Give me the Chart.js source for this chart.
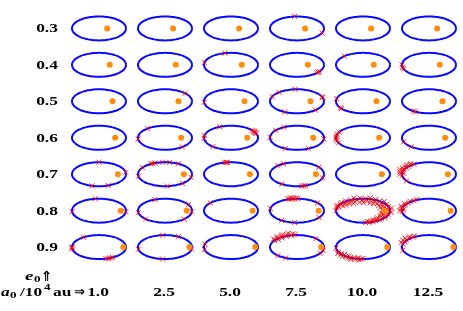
<!DOCTYPE html>
<html>
<head>
<meta charset="utf-8">
<script src="https://cdn.jsdelivr.net/npm/chart.js@4"></script>
<style>
  html, body { margin: 0; padding: 0; background: #fff; }
  #wrap { width: 463px; height: 311px; position: relative; }
</style>
</head>
<body>
<div id="wrap"><canvas id="orbits"></canvas></div>
<script>
// rows: initial eccentricity, columns: initial semi-major axis (10^4 au)
const eccentricities = [0.3, 0.4, 0.5, 0.6, 0.7, 0.8, 0.9];
const eccLabels = ["0.3", "0.4", "0.5", "0.6", "0.7", "0.8", "0.9"];
const semiMajorLabels = ["1.0", "2.5", "5.0", "7.5", "10.0", "12.5"];

// single markers, angle on the orbit in degrees (0 = right end, 90 = top)
const crossAngles = [
  [[], [], [], [95, 338], [], []],
  [[], [], [103, 170], [318, 322, 326], [134], [180, 192, 200]],
  [[], [42], [185], [157, 132, 94, 243, 22, 18, 313], [167, 217, 213], [235, 240]],
  [[], [130, 185, 310], [115, 170, 183, 228, 38, 34, 30, 27, 24, 21], [142, 119, 178, 244, 295, 355], [152, 162, 170, 178, 186, 195, 205], [200, 229]],
  [[90, 10, 255, 290], [147, 190, 117, 121, 112, 95, 80, 60, 345, 310, 275], [98, 100, 103], [135, 120, 236, 280, 284, 288, 36, 342], [], [214]],
  [[98, 185, 355], [112, 190, 224, 355, 315, 30], [140], [170, 235, 265, 325, 40], [180], []],
  [[125, 180, 183, 190, 285, 290, 295, 300], [190, 95, 60, 265, 350], [165, 192], [225, 245, 45, 345, 330], [185], [195]]
];

// dense smears: [angle, radius factor]
const smear07_125 = [[186,1.0],[180,1.08],[175,0.95],[170,1.1],[165,1.0],[160,1.15],[156,1.02],[152,1.12],[148,0.98],[144,1.1],[140,1.0],[136,1.15],[132,1.04],[128,1.1],[124,1.0]];
const smear08_75 = [[88,1.0],[91,1.08],[94,0.98],[97,1.06],[100,1.0],[103,1.1],[106,1.0],[109,1.05]];
const smear08_100 = [[165,1.0],[160,0.95],[156,1.05],[152,0.85],[148,1.0],[144,0.8],[140,1.05],[136,0.9],[132,0.75],[128,1.05],[124,0.85],[120,0.7],[116,1.0],[112,0.8],[108,1.1],[104,0.9],[100,0.7],[96,1.05],[92,0.85],[88,0.68],[84,1.0],[80,0.8],[76,1.1],[72,0.9],[68,0.7],[64,1.05],[60,0.85],[56,0.7],[52,1.0],[48,0.8],[44,1.1],[40,0.9],[36,0.72],[32,1.05],[28,0.85],[24,0.7],[20,1.0],[16,0.8],[12,1.08],[8,0.9],[4,0.72],[0,1.0],[-4,0.82],[-8,1.05],[-12,0.88],[-16,0.7],[-20,1.0],[-24,0.82],[-28,0.95],[-32,0.75],[-36,1.0],[-40,0.85],[-44,0.95],[-48,0.8],[-52,1.0],[-56,0.88],[-60,0.95],[-64,0.85],[-68,1.0],[-72,0.9],[-76,1.0],[-80,0.92],[-85,1.0]];
const smear08_125 = [[185,1.0],[180,1.08],[175,0.95],[170,1.05],[165,1.0],[160,1.1],[152,1.0],[146,1.08],[140,1.0],[132,1.05],[124,1.0],[116,1.05]];
const smear09_75 = [[146,1.0],[142,1.1],[138,0.92],[134,1.05],[130,1.15],[126,0.95],[122,1.08],[118,1.18],[114,0.98],[110,1.1],[106,1.2],[102,1.0],[98,1.12],[94,1.05]];
const smear09_100 = [[205,1.0],[210,1.08],[214,0.95],[218,1.05],[222,0.92],[226,1.1],[230,1.0],[234,0.9],[238,1.08],[242,0.98],[246,1.1],[250,0.95],[254,1.05],[258,0.92],[262,1.08],[266,1.0],[270,0.95]];
const smear09_125 = [[165,1.0],[160,1.1],[155,0.98],[150,1.12],[145,1.02],[140,1.15],[135,1.05],[130,1.12],[125,1.02],[120,1.08]];

const smears = [
  [4, 5, smear07_125],
  [5, 3, smear08_75],
  [5, 4, smear08_100],
  [5, 5, smear08_125],
  [6, 3, smear09_75],
  [6, 4, smear09_100],
  [6, 5, smear09_125]
];

// layout: one unit per panel
const RX = 27 / 66;
const RY = 12 / 36.45;
const deg = Math.PI / 180;

function onOrbit(row, col, angle, s) {
  return {
    x: col + s * RX * Math.cos(angle * deg),
    y: row - s * RY * Math.sin(angle * deg)
  };
}

const datasets = [];
const focusPoints = [];
const crossPoints = [];

eccentricities.forEach((e, row) => {
  semiMajorLabels.forEach((label, col) => {
    const ring = [];
    for (let t = 0; t <= 360; t += 6) {
      ring.push(onOrbit(row, col, t, 1));
    }
    datasets.push({
      data: ring,
      showLine: true,
      borderColor: "#0a0aff",
      borderWidth: 2,
      tension: 0.3,
      pointRadius: 0,
      order: 3,
    });
    focusPoints.push({ x: col + e * RX, y: row });
    crossAngles[row][col].forEach((t) => crossPoints.push(onOrbit(row, col, t, 1)));
  });
});

smears.forEach(([row, col, pts]) => {
  pts.forEach(([t, s]) => crossPoints.push(onOrbit(row, col, t, s)));
});

datasets.push({
  data: crossPoints,
  pointStyle: "crossRot",
  pointRadius: 3.6,
  borderColor: "rgba(255,0,0,0.85)",
  borderWidth: 1,
  showLine: false,
  order: 2,
});

datasets.push({
  data: focusPoints,
  pointStyle: "circle",
  pointRadius: 3,
  backgroundColor: "#ff8c0a",
  borderColor: "#ff8c0a",
  borderWidth: 0,
  showLine: false,
  order: 1,
});

const STRETCH = 1.45;

function stretchText(ctx, str, x, y, font, align) {
  ctx.save();
  ctx.font = font;
  ctx.textAlign = align;
  ctx.textBaseline = "alphabetic";
  ctx.fillStyle = "#000";
  ctx.translate(x, y);
  ctx.scale(STRETCH, 1);
  ctx.fillText(str, 0, 0);
  ctx.restore();
}

const labelPlugin = {
  id: "labels",
  afterDraw(chart) {
    const ctx = chart.ctx;
    const xs = chart.scales.x;
    const ys = chart.scales.y;
    const serif = "'Liberation Serif', 'Times New Roman', serif";

    eccLabels.forEach((lab, row) => {
      stretchText(ctx, lab, 47, ys.getPixelForValue(row) + 4, "bold 12px " + serif, "center");
    });
    semiMajorLabels.forEach((lab, col) => {
      stretchText(ctx, lab, xs.getPixelForValue(col) - 1, 296, "bold 12px " + serif, "center");
    });

    // e0 with up arrow
    stretchText(ctx, "e", 25, 280, "italic bold 13px " + serif, "left");
    stretchText(ctx, "0", 34, 282, "bold 9px " + serif, "left");
    ctx.save();
    ctx.font = "bold 14px 'DejaVu Sans'";
    ctx.fillStyle = "#000";
    ctx.fillText("\u21D1", 41, 281);
    ctx.restore();

    // a0/10^4 au with right arrow
    stretchText(ctx, "a", 1, 296, "italic bold 12px " + serif, "left");
    stretchText(ctx, "0", 10, 298, "bold 9px " + serif, "left");
    stretchText(ctx, "/10", 20, 296, "bold 12px " + serif, "left");
    stretchText(ctx, "4", 44, 290, "bold 9px " + serif, "left");
    stretchText(ctx, "au", 53, 296, "bold 12px " + serif, "left");
    ctx.save();
    ctx.font = "bold 13px 'DejaVu Sans'";
    ctx.fillStyle = "#000";
    ctx.fillText("\u21D2", 74, 296);
    ctx.restore();
  },
};

new Chart(document.getElementById("orbits"), {
  type: "scatter",
  data: { datasets: datasets },
  options: {
    responsive: true,
    maintainAspectRatio: false,
    animation: false,
    events: [],
    layout: { padding: 0, autoPadding: false },
    plugins: { legend: { display: false }, tooltip: { enabled: false } },
    scales: {
      x: { type: "linear", min: -1.5, max: -1.5 + 463 / 66, display: false },
      y: { type: "linear", min: -28.4 / 36.45, max: -28.4 / 36.45 + 311 / 36.45, reverse: true, display: false },
    },
  },
  plugins: [labelPlugin],
});
</script>
</body>
</html>
